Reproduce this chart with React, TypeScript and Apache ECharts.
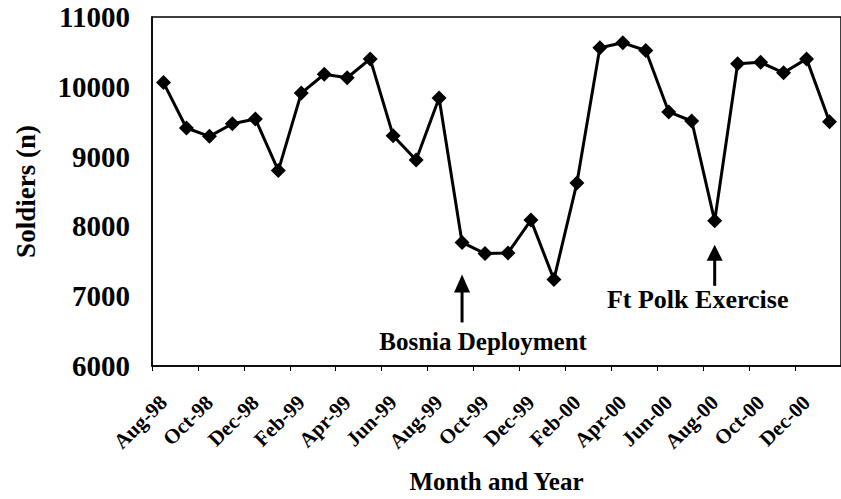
import React, { useEffect, useRef } from "react";
import * as echarts from "echarts";

const months = [
  "Aug-98", "Sep-98", "Oct-98", "Nov-98", "Dec-98", "Jan-99", "Feb-99", "Mar-99",
  "Apr-99", "May-99", "Jun-99", "Jul-99", "Aug-99", "Sep-99", "Oct-99", "Nov-99",
  "Dec-99", "Jan-00", "Feb-00", "Mar-00", "Apr-00", "May-00", "Jun-00", "Jul-00",
  "Aug-00", "Sep-00", "Oct-00", "Nov-00", "Dec-00", "Jan-01",
];
const soldiers = [
  10060, 9410, 9290, 9470, 9540, 8800, 9910, 10180,
  10130, 10400, 9300, 8950, 9840, 7770, 7610, 7620,
  8090, 7240, 8620, 10560, 10630, 10520, 9640, 9510,
  8080, 10330, 10350, 10200, 10400, 9500,
];
const yTicks = { min: 6000, max: 11000, interval: 1000 };
const annotations = [
  { month: "Sep-99", text: "Bosnia Deployment" },
  { month: "Aug-00", text: "Ft Polk Exercise" },
];

const FONT = '"Liberation Serif", "Times New Roman", serif';

export default function App() {
  const ref = useRef<HTMLDivElement>(null);
  useEffect(() => {
    if (!ref.current) return;
    const chart = echarts.init(ref.current, null, { renderer: "svg" });
    chart.setOption({
      animation: false,
      backgroundColor: "#fff",
      grid: {
        left: 152,
        top: 17,
        width: 697,
        height: 352,
        show: true,
        borderColor: "#000",
        borderWidth: 1.5,
        backgroundColor: "transparent",
      },
      xAxis: {
        type: "category",
        data: months,
        boundaryGap: true,
        name: "Month and Year",
        nameLocation: "middle",
        nameGap: 103,
        nameTextStyle: { fontFamily: FONT, fontWeight: "bold", fontSize: 25, color: "#000" },
        axisLine: { lineStyle: { color: "#000", width: 1.5 } },
        axisTick: { show: true, interval: 1, length: 5, lineStyle: { color: "#000", width: 1 } },
        axisLabel: {
          interval: 1,
          rotate: 45,
          margin: 33,
          fontFamily: FONT,
          fontWeight: "bold",
          fontSize: 21,
          color: "#000",
        },
        splitLine: { show: false },
      },
      yAxis: {
        type: "value",
        min: yTicks.min,
        max: yTicks.max,
        interval: yTicks.interval,
        name: "Soldiers (n)",
        nameLocation: "middle",
        nameGap: 113,
        nameTextStyle: { fontFamily: FONT, fontWeight: "bold", fontSize: 27, color: "#000" },
        axisLine: { show: true, lineStyle: { color: "#000", width: 1.5 } },
        axisTick: { show: false },
        axisLabel: {
          margin: 22,
          fontFamily: FONT,
          fontWeight: "bold",
          fontSize: 29,
          color: "#000",
          formatter: (v: number) => String(v),
        },
        splitLine: { show: false },
      },
      series: [
        {
          type: "line",
          data: soldiers,
          symbol: "diamond",
          symbolSize: 15,
          lineStyle: { color: "#000", width: 3 },
          itemStyle: { color: "#000" },
        },
      ],
    });

    const layout = [
      { tipGap: 32, headH: 18, shaftLen: 30, textDx: 21, textDy: 99, fontSize: 25 },
      { tipGap: 24, headH: 16, shaftLen: 25, textDx: -17, textDy: 79, fontSize: 26 },
    ];
    const graphics: any[] = [];
    annotations.forEach((a, i) => {
      const idx = months.indexOf(a.month);
      const [px, py] = chart.convertToPixel({ seriesIndex: 0 }, [idx, soldiers[idx]]) as number[];
      const L = layout[i];
      const tip = py + L.tipGap;
      graphics.push({
        type: "polygon",
        shape: { points: [[px, tip], [px - 8, tip + L.headH], [px + 8, tip + L.headH]] },
        style: { fill: "#000" },
      });
      graphics.push({
        type: "line",
        shape: { x1: px, y1: tip + L.headH - 2, x2: px, y2: tip + L.headH + L.shaftLen },
        style: { stroke: "#000", lineWidth: 3 },
      });
      graphics.push({
        type: "text",
        x: px + L.textDx,
        y: py + L.textDy,
        style: {
          text: a.text,
          fontFamily: FONT,
          fontWeight: "bold",
          fontSize: L.fontSize,
          fill: "#000",
          align: "center",
          verticalAlign: "middle",
        },
      });
    });
    chart.setOption({ graphic: graphics });
    return () => chart.dispose();
  }, []);
  return (
    <div
      ref={ref}
      style={{ position: "fixed", left: 0, top: 0, width: 841, height: 499, background: "#fff" }}
    />
  );
}
